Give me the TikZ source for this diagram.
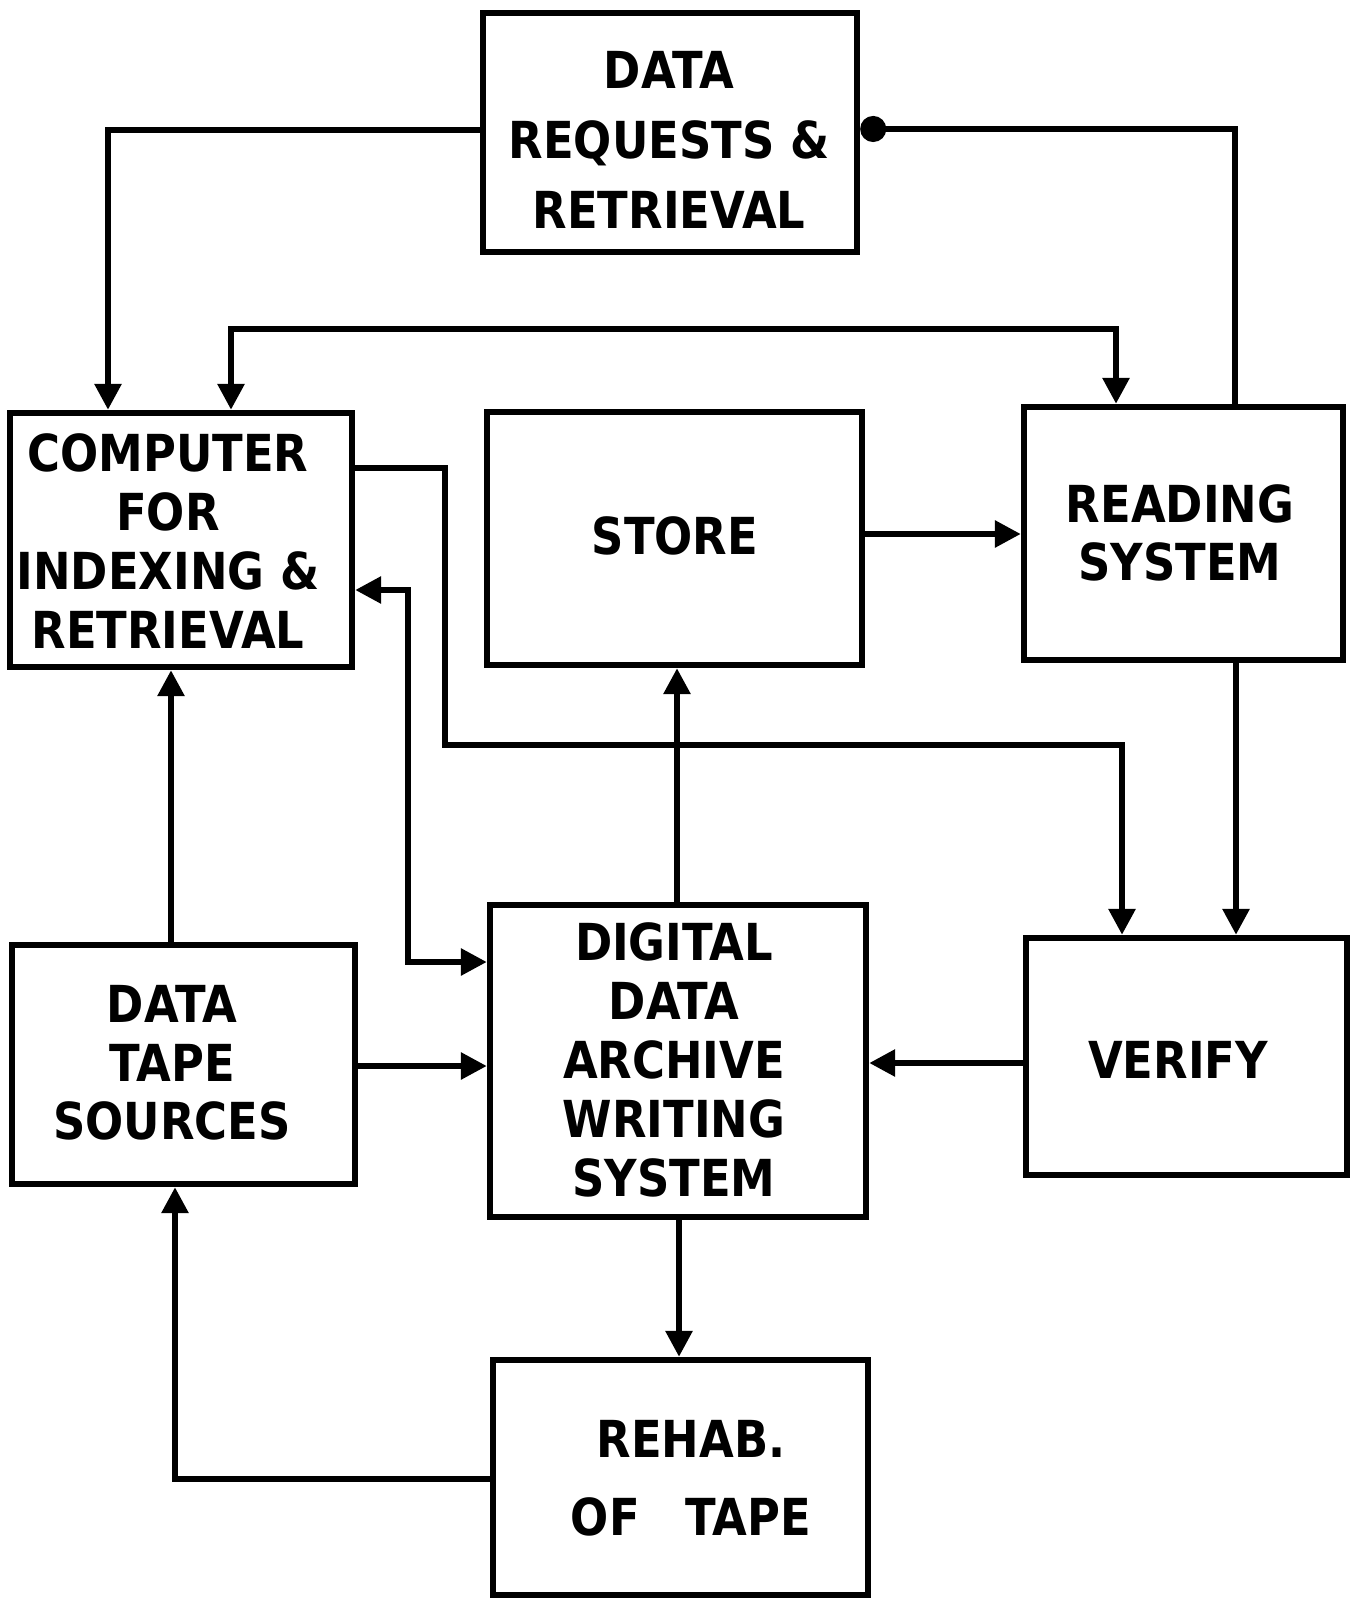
\documentclass[tikz,border=0pt]{standalone}
\usepackage{fontspec}
\newfontfamily\lblfam{DejaVu Sans}[FakeStretch=0.88]
\usetikzlibrary{arrows.meta,fit}
\begin{document}
\begin{tikzpicture}[x=0.5pt,y=-0.5pt,
  blk/.style={draw,line width=3.2pt,inner sep=0pt},
  lbl/.style={align=center,inner sep=0pt},
  conn/.style={line width=3pt},
  arr/.style={conn,-{Triangle[length=13pt,width=13pt]}},
  arrtwo/.style={conn,{Triangle[length=13pt,width=13pt]}-{Triangle[length=13pt,width=13pt]}},
  arrdot/.style={conn,-{Circle[length=13pt,width=13pt]}}]
\useasboundingbox (0,0) rectangle (1357,1598);
\fill[white] (0,0) rectangle (1357,1598);
% boxes
\node[blk,fit={(483,13) (857,252)}] (req) {};
\node[blk,fit={(10,413) (352,667)}] (comp) {};
\node[blk,fit={(487,412) (862,665)}] (store) {};
\node[blk,fit={(1024,407) (1343,660)}] (read) {};
\node[blk,fit={(12,945) (355,1184)}] (tape) {};
\node[blk,fit={(490,905) (866,1217)}] (dig) {};
\node[blk,fit={(1026,938) (1347,1175)}] (ver) {};
\node[blk,fit={(493,1360) (868,1595)}] (rehab) {};
% labels
\node[lbl,font=\lblfam\bfseries\fontsize{25.5}{35}\selectfont] (treq) at (669,140) {DATA\\REQUESTS \&\\RETRIEVAL};
\node[lbl,font=\lblfam\bfseries\fontsize{25.5}{29.5}\selectfont] (tcomp) at (168,541) {COMPUTER\\FOR\\INDEXING \&\\RETRIEVAL};
\node[lbl,font=\lblfam\bfseries\fontsize{25.5}{29.5}\selectfont] (tstore) at (675,536) {STORE};
\node[lbl,font=\lblfam\bfseries\fontsize{25.5}{29}\selectfont] (tread) at (1180,533) {READING\\SYSTEM};
\node[lbl,font=\lblfam\bfseries\fontsize{25.5}{29.3}\selectfont] (ttape) at (172,1063) {DATA\\TAPE\\SOURCES};
\node[lbl,font=\lblfam\bfseries\fontsize{25.5}{29.5}\selectfont] (tdig) at (674,1060) {DIGITAL\\DATA\\ARCHIVE\\WRITING\\SYSTEM};
\node[lbl,font=\lblfam\bfseries\fontsize{25.5}{29.5}\selectfont] (tver) at (1178,1060) {VERIFY};
\node[lbl,font=\lblfam\bfseries\fontsize{25.5}{39}\selectfont] (trehab) at (691,1478) {REHAB.\\OF\hspace{0.9em}TAPE};
% connectors
\draw[arr] (req.west |- 0,130) -| (108,0 |- comp.north);
\draw[arrtwo] (231,0 |- comp.north) -- (231,329) -| (1116,0 |- read.north);
\draw[arrdot] (1235,0 |- read.north) -- (1235,129) -- (req.east |- 0,129);
\draw[arr] (comp.east |- 0,468) -- (445,468) |- (1122,745) -- (1122,0 |- ver.north);
\draw[arr] (store.east |- 0,534) -- (read.west |- 0,534);
\draw[arr] (1236,0 |- read.south) -- (1236,0 |- ver.north);
\draw[arr] (677,0 |- dig.north) -- (677,0 |- store.south);
\draw[arrtwo] (comp.east |- 0,590) -- (408,590) |- (dig.west |- 0,962);
\draw[arr] (171,0 |- tape.north) -- (171,0 |- comp.south);
\draw[arr] (tape.east |- 0,1066) -- (dig.west |- 0,1066);
\draw[arr] (ver.west |- 0,1063) -- (dig.east |- 0,1063);
\draw[arr] (679,0 |- dig.south) -- (679,0 |- rehab.north);
\draw[arr] (rehab.west |- 0,1479) -| (175,0 |- tape.south);
\end{tikzpicture}
\end{document}
